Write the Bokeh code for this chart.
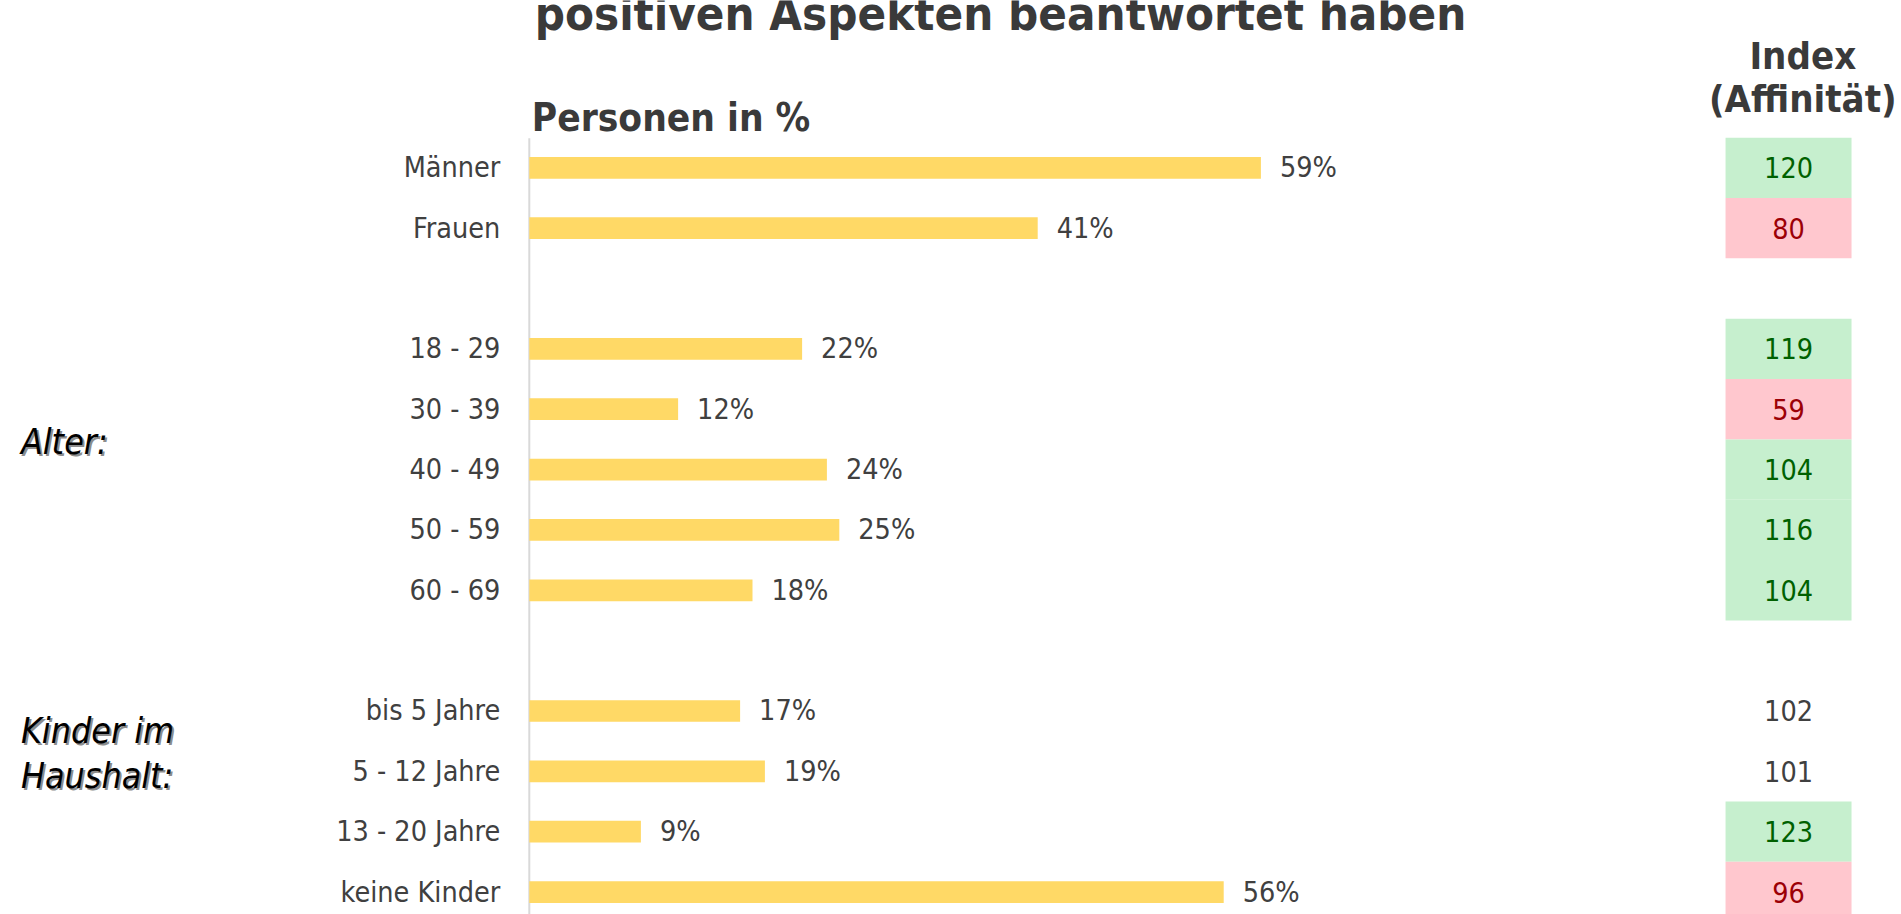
from bokeh.plotting import figure
from bokeh.models import Range1d, ColumnDataSource
from bokeh.core.properties import value
from bokeh.embed import file_html
from bokeh.resources import INLINE

# ---------------- data ----------------
categories = ["Männer", "Frauen",
              "18 - 29", "30 - 39", "40 - 49", "50 - 59", "60 - 69",
              "bis 5 Jahre", "5 - 12 Jahre", "13 - 20 Jahre", "keine Kinder"]
group_of = [0, 0, 1, 1, 1, 1, 1, 2, 2, 2, 2]
shares = [59, 41, 22, 12, 24, 25, 18, 17, 19, 9, 56]
index_values = [120, 80, 119, 59, 104, 116, 104, 102, 101, 123, 96]
index_status = ["hoch", "niedrig", "hoch", "niedrig", "hoch", "hoch", "hoch",
                "neutral", "neutral", "hoch", "niedrig"]
group_labels = ["Alter:", "Kinder im", "Haushalt:"]
title_text = "positiven Aspekten beantwortet haben"
subtitle_text = "Personen in %"
index_header = ["Index", "(Affinität)"]

# ---------------- styling ----------------
FONT = "'DejaVu Sans Condensed', 'DejaVu Sans', sans-serif"
TXT = "#404040"
HEAD = "#3a3a3a"
BAR = "#FFD966"
BG = {"hoch": "#C6EFCE", "niedrig": "#FFC7CE", "neutral": None}
FG = {"hoch": "#006100", "niedrig": "#9C0006", "neutral": TXT}
LBL_SIZE = "28.5px"

# one empty row between groups
rows = [i + g for i, g in enumerate(group_of)]

src = ColumnDataSource(dict(
    row=rows, cat=categories, share=shares,
    share_lbl=[f"{v}%" for v in shares],
    idx=[str(v) for v in index_values],
    fg=[FG[s] for s in index_status],
))
box_rows = [r for r, s in zip(rows, index_status) if BG[s]]
box_cols = [BG[s] for s in index_status if BG[s]]
box_src = ColumnDataSource(dict(row=box_rows, bg=box_cols))

INDEX_X = 101.55
INDEX_W = 10.16

p = figure(width=1901, height=914,
           x_range=Range1d(-42.645, 110.66), y_range=Range1d(12.372, -2.7726),
           x_axis_location=None, y_axis_location=None,
           output_backend="svg", toolbar_location=None, min_border=0)
p.grid.visible = False
p.outline_line_color = None
p.background_fill_color = "white"
p.border_fill_color = "white"

# vertical axis line
p.segment(x0=[0], y0=[-0.49], x1=[0], y1=[13], line_color="#D9D9D9", line_width=2)

# bars
p.hbar(y="row", left=0, right="share", height=0.36, source=src,
       fill_color=BAR, line_color=None)

# category labels
p.text(x=0, y="row", text="cat", source=src, x_offset=-29,
       text_align="right", text_baseline="middle",
       text_font=value(FONT), text_font_size=LBL_SIZE, text_color=TXT)

# value labels
p.text(x="share", y="row", text="share_lbl", source=src, x_offset=19,
       text_align="left", text_baseline="middle",
       text_font=value(FONT), text_font_size=LBL_SIZE, text_color=TXT)

# index cells
p.rect(x=INDEX_X, y="row", width=INDEX_W, height=1.0, source=box_src,
       fill_color="bg", line_color=None)
p.text(x=INDEX_X, y="row", text="idx", source=src,
       text_align="center", text_baseline="middle", text_color="fg",
       text_font=value(FONT), text_font_size=LBL_SIZE)

# titles
p.text(x=[38.0], y=[-2.563], text=[title_text], text_align="center",
       text_baseline="alphabetic", text_font=value(FONT), text_font_style="bold",
       text_font_size="47px", text_color=HEAD)
p.text(x=[0.2], y=[-0.829], text=[subtitle_text], text_align="left",
       text_baseline="alphabetic", text_font=value(FONT), text_font_style="bold",
       text_font_size="38.5px", text_color=HEAD)
p.text(x=[102.7, 102.7], y=[-1.86, -1.14], text=index_header, text_align="center",
       text_baseline="alphabetic", text_font=value(FONT), text_font_style="bold",
       text_font_size="38px", text_color=HEAD)

# group labels with soft shadow
gx = [-41.0, -41.0, -41.0]
gy = [4.534, 9.32, 10.07]
p.text(x=gx, y=gy, text=group_labels, x_offset=2, y_offset=2,
       text_align="left", text_baseline="alphabetic",
       text_font=value(FONT), text_font_style="italic", text_font_size="35.5px",
       text_color="#6e6e6e", text_alpha=0.8)
p.text(x=gx, y=gy, text=group_labels,
       text_align="left", text_baseline="alphabetic",
       text_font=value(FONT), text_font_style="italic", text_font_size="35.5px",
       text_color="#000000")

open("out.html", "w").write(file_html(p, INLINE))
